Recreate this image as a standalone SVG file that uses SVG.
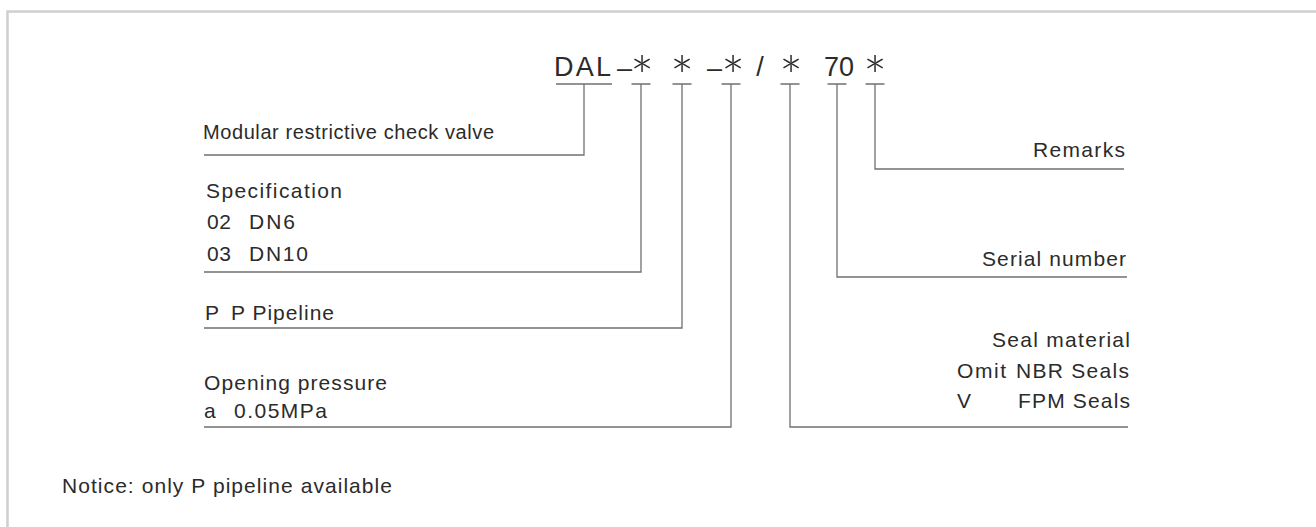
<svg xmlns="http://www.w3.org/2000/svg" width="1316" height="527" viewBox="0 0 1316 527">
<style>
text{font-family:"Liberation Sans",Arial,sans-serif;fill:#2b2b2b}
.code{font-size:27px}
.star{font-family:Lato,"Liberation Sans",sans-serif;font-weight:300;font-size:58px;text-anchor:middle}
.lbl{font-size:21px}
.sm{font-size:20px}
.ln{stroke:#707070;stroke-width:1.3;fill:none}
.frame{stroke:#cfcfcf;stroke-width:2.5;fill:none}
</style>
<rect width="1316" height="527" fill="#ffffff"/>
<path class="frame" d="M7.5,530 V11.5 H1320"/>

<g id="code">
<text class="code" x="554" y="76" textLength="57" lengthAdjust="spacing">DAL</text>
<text class="code" x="617" y="77">–</text>
<text class="star" x="642" y="98">*</text>
<text class="star" x="682" y="98">*</text>
<text class="code" x="707" y="77">–</text>
<text class="star" x="733" y="98">*</text>
<text class="code" x="760" y="76" text-anchor="middle">/</text>
<text class="star" x="791" y="98">*</text>
<text class="code" x="839" y="76" text-anchor="middle">70</text>
<text class="star" x="875" y="98">*</text>
</g>

<g id="connectors">
<path class="ln" d="M556,84 H612 M584,84 V155 H204"/>
<path class="ln" d="M631.5,84 H650.5 M641,84 V272 H204"/>
<path class="ln" d="M672.5,84 H691.5 M682,84 V328 H204"/>
<path class="ln" d="M721.5,84 H740.5 M731,84 V427 H204"/>
<path class="ln" d="M780.5,84 H799.5 M790,84 V427 H1128"/>
<path class="ln" d="M827.5,84 H846.5 M837,84 V277 H1127"/>
<path class="ln" d="M865.5,84 H884.5 M875,84 V169 H1124"/>
</g>

<g id="type">
<text class="lbl sm" x="203" y="139" textLength="291" lengthAdjust="spacing">Modular restrictive check valve</text>
</g>
<g id="specification">
<text class="lbl" x="206" y="197.5" textLength="136" lengthAdjust="spacing">Specification</text>
<text class="lbl" y="229"><tspan x="207" textLength="24" lengthAdjust="spacing">02</tspan> <tspan x="249" textLength="46" lengthAdjust="spacing">DN6</tspan></text>
<text class="lbl" y="261"><tspan x="207" textLength="24" lengthAdjust="spacing">03</tspan> <tspan x="249" textLength="59" lengthAdjust="spacing">DN10</tspan></text>
</g>
<g id="pipeline">
<text class="lbl" y="320"><tspan x="205">P</tspan> <tspan x="231" textLength="103" lengthAdjust="spacing">P Pipeline</tspan></text>
</g>
<g id="pressure">
<text class="lbl" x="204" y="390" textLength="183" lengthAdjust="spacing">Opening pressure</text>
<text class="lbl" y="418"><tspan x="204">a</tspan> <tspan x="234" textLength="93" lengthAdjust="spacing">0.05MPa</tspan></text>
</g>
<g id="remarks">
<text class="lbl" x="1033" y="157" textLength="92" lengthAdjust="spacing">Remarks</text>
</g>
<g id="serial">
<text class="lbl" x="982" y="266" textLength="144" lengthAdjust="spacing">Serial number</text>
</g>
<g id="seal">
<text class="lbl" x="992" y="347" textLength="138" lengthAdjust="spacing">Seal material</text>
<text class="lbl" y="377.5"><tspan x="957" textLength="49" lengthAdjust="spacing">Omit</tspan> <tspan x="1016" textLength="113" lengthAdjust="spacing">NBR Seals</tspan></text>
<text class="lbl" y="408"><tspan x="957">V</tspan> <tspan x="1018" textLength="112" lengthAdjust="spacing">FPM Seals</tspan></text>
</g>
<g id="notice">
<text class="lbl" x="62" y="493" textLength="330" lengthAdjust="spacing">Notice: only P pipeline available</text>
</g>
</svg>
